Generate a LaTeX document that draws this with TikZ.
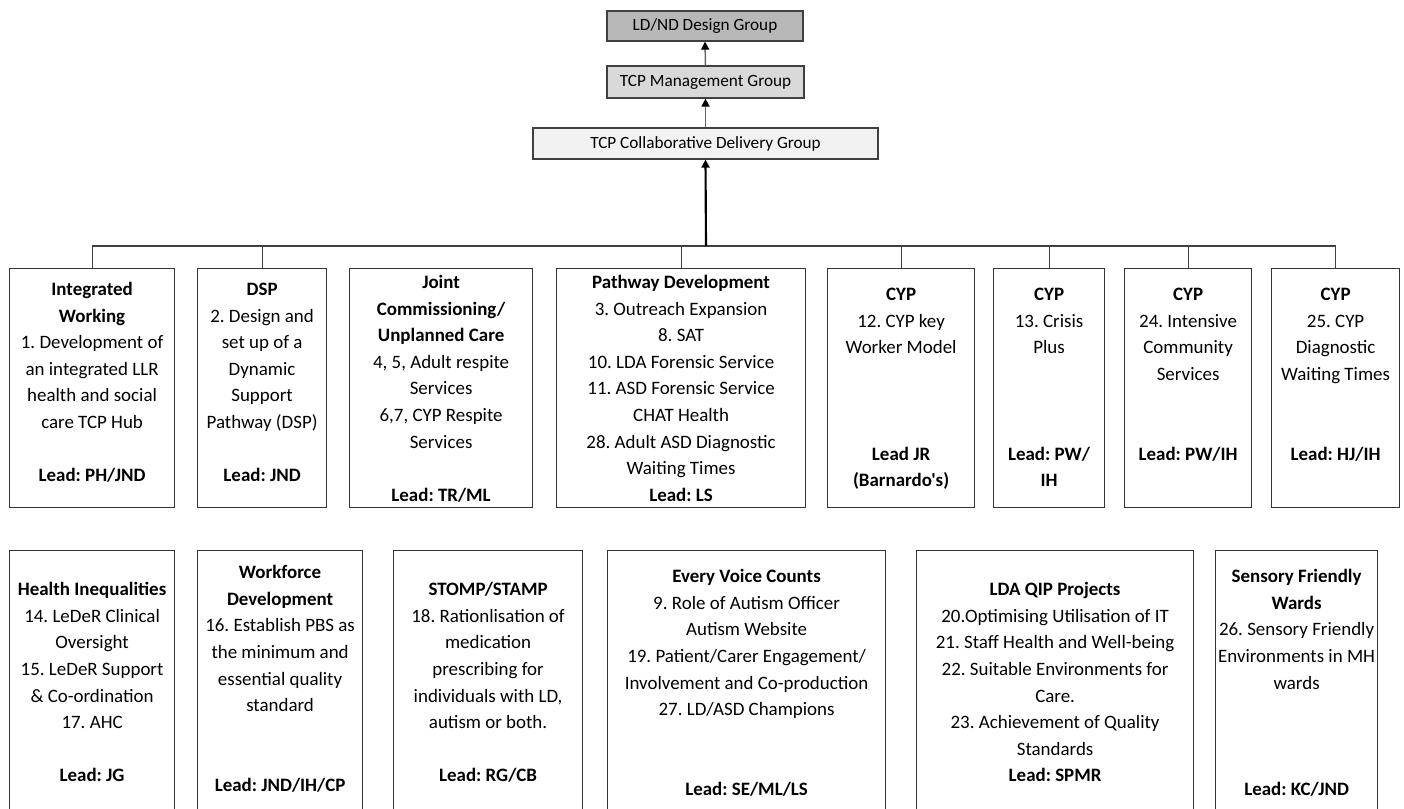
\documentclass[tikz,border=0pt]{standalone}
\usepackage{fontspec}
\setmainfont{Carlito}[Ligatures=TeXOff]
\usetikzlibrary{arrows.meta}
\newdimen\px \px=0.75pt
\newcommand\bx[4]{\parbox[c][#2\px][t]{#1\px}{\centering\frenchspacing\fontsize{14.2pt}{19.95pt}\selectfont\rule{0pt}{#3\px}#4}}
\begin{document}
\begin{tikzpicture}[x=0.75pt,y=-0.75pt]
\tikzset{
  grp/.style={draw=black!75, line width=0.9pt, inner sep=0pt, font=\fontsize{12.9pt}{14pt}\selectfont},
  cbox/.style={draw=black!80, line width=0.9pt, inner sep=0pt, anchor=north west},
  link/.style={draw=black!60, line width=1.1pt, -{Triangle[length=6pt,width=6pt,color=black]}},
  mainlink/.style={draw=black, line width=1.6pt, -{Triangle[length=6pt,width=6pt,color=black]}},
  bus/.style={draw=black!75, line width=0.8pt}
}
\useasboundingbox (0,0) rectangle (1404,809);
\clip (0,0) rectangle (1404,809);
\fill[white] (0,0) rectangle (1404,809);

% top groups
\node[grp, fill=black!28, minimum width=196\px, minimum height=30\px] (ldnd) at (705,26) {LD/ND Design Group};
\node[grp, fill=black!15, minimum width=197\px, minimum height=32\px] (mg) at (705.5,82) {TCP Management Group};
\node[grp, fill=black!5, minimum width=345\px, minimum height=31\px] (cdg) at (705.5,143.5) {TCP Collaborative Delivery Group};

% top row
\node[cbox] (b1) at (9,268) {\bx{165}{239}{27}{\textbf{Integrated}\\\textbf{Working}\\1. Development of\\an integrated LLR\\health and social\\care TCP Hub\\[\baselineskip]\textbf{Lead: PH/JND}}};
\node[cbox] (b2) at (197,268) {\bx{129}{239}{27}{\textbf{DSP}\\2. Design and\\set up of a\\Dynamic\\Support\\Pathway (DSP)\\[\baselineskip]\textbf{Lead: JND}}};
\node[cbox] (b3) at (349,268) {\bx{183}{239}{20}{\textbf{Joint}\\\textbf{Commissioning/}\\\textbf{Unplanned Care}\\4, 5, Adult respite\\Services\\6,7, CYP Respite\\Services\\[\baselineskip]\textbf{Lead: TR/ML}}};
\node[cbox] (b4) at (556,268) {\bx{249}{239}{20}{\textbf{Pathway Development}\\3. Outreach Expansion\\8. SAT\\10. LDA Forensic Service\\11. ASD Forensic Service\\CHAT Health\\28. Adult ASD Diagnostic\\Waiting Times\\\textbf{Lead: LS}}};
\node[cbox] (b5) at (827,268) {\bx{147}{239}{32}{\textbf{CYP}\\12. CYP key\\Worker Model\\[3\baselineskip]\textbf{Lead JR}\\\textbf{(Barnardo's)}}};
\node[cbox] (b6) at (993,268) {\bx{111}{239}{32}{\textbf{CYP}\\13. Crisis\\Plus\\[3\baselineskip]\textbf{Lead: PW/}\\\textbf{IH}}};
\node[cbox] (b7) at (1124,268) {\bx{127}{239}{32}{\textbf{CYP}\\24. Intensive\\Community\\Services\\[2\baselineskip]\textbf{Lead: PW/IH}}};
\node[cbox] (b8) at (1271,268) {\bx{128}{239}{32}{\textbf{CYP}\\25. CYP\\Diagnostic\\Waiting Times\\[2\baselineskip]\textbf{Lead: HJ/IH}}};

% bottom row
\node[cbox] (c1) at (9,550) {\bx{165}{270}{45}{\textbf{Health Inequalities}\\14. LeDeR Clinical\\Oversight\\15. LeDeR Support\\\& Co-ordination\\17. AHC\\[\baselineskip]\textbf{Lead: JG}}};
\node[cbox] (c2) at (197,550) {\bx{165}{270}{28}{\textbf{Workforce}\\\textbf{Development}\\16. Establish PBS as\\the minimum and\\essential quality\\standard\\[2\baselineskip]\textbf{Lead: JND/IH/CP}}};
\node[cbox] (c3) at (393,550) {\bx{189}{270}{45}{\textbf{STOMP/STAMP}\\18. Rationlisation of\\medication\\prescribing for\\individuals with LD,\\autism or both.\\[\baselineskip]\textbf{Lead: RG/CB}}};
\node[cbox] (c4) at (607,550) {\bx{278}{270}{32}{\textbf{Every Voice Counts}\\9. Role of Autism Officer\\Autism Website\\19. Patient/Carer Engagement/\\Involvement and Co-production\\27. LD/ASD Champions\\[2\baselineskip]\textbf{Lead: SE/ML/LS}}};
\node[cbox] (c5) at (916,550) {\bx{277}{270}{45}{\textbf{LDA QIP Projects}\\20.Optimising Utilisation of IT\\21. Staff Health and Well-being\\22. Suitable Environments for\\Care.\\23. Achievement of Quality\\Standards\\\textbf{Lead: SPMR}}};
\node[cbox] (c6) at (1215,550) {\bx{162}{270}{32}{\textbf{Sensory Friendly}\\\textbf{Wards}\\26. Sensory Friendly\\Environments in MH\\wards\\[3\baselineskip]\textbf{Lead: KC/JND}}};

% connectors
\coordinate (hub) at (706,246);
\foreach \b in {b1,b2,b4,b5,b6,b7,b8} { \draw[bus] (\b.north) |- (hub); }
\draw[mainlink] (hub) -- (cdg.south);
\draw[link] (cdg.north) -- (mg.south);
\draw[link] (mg.north) -- (ldnd.south);
\end{tikzpicture}
\end{document}
